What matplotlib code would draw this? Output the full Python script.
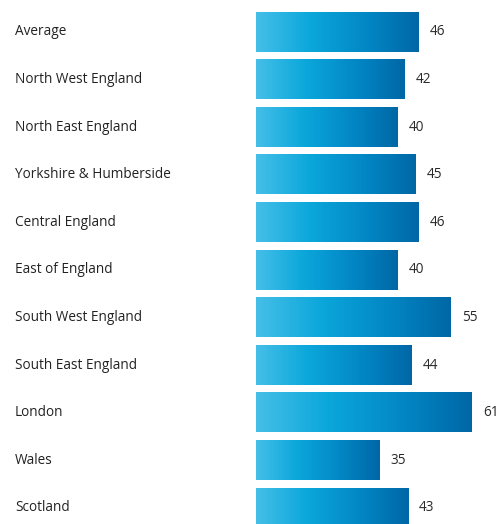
import matplotlib
matplotlib.use("Agg")
import matplotlib.pyplot as plt
import numpy as np
from matplotlib.transforms import blended_transform_factory
from matplotlib.colors import LinearSegmentedColormap

regions = ["Average", "North West England", "North East England", "Yorkshire & Humberside",
           "Central England", "East of England", "South West England", "South East England",
           "London", "Wales", "Scotland"]
values = [46, 42, 40, 45, 46, 40, 55, 44, 61, 35, 43]

plt.rcParams['font.family'] = ['Open Sans', 'DejaVu Sans']

W, H = 497, 524
fig = plt.figure(figsize=(W / 100, H / 100), dpi=100)
x0 = 256
px_per_unit = 3.54
ax = fig.add_axes([x0 / W, 0, 1 - x0 / W, 1])
spacing = 47.6
top_c = 32
xlim = (0, (W - x0) / px_per_unit)
ylim = (10 + (H - (top_c + 10 * spacing)) / spacing, -top_c / spacing)
ax.axis('off')

cmap = LinearSegmentedColormap.from_list('g', ['#45bfe8', '#0ba7db', '#0388c6', '#0067a6'])
grad = np.linspace(0, 1, 256).reshape(1, -1)
h = 0.82
for i, v in enumerate(values):
    ax.imshow(grad, cmap=cmap, aspect='auto', extent=[0, v, i + h / 2, i - h / 2],
              interpolation='bicubic', zorder=2)
    ax.text(v + 11 / px_per_unit, i, str(v), va='center', ha='left', fontsize=9.8,
            color='#2a2a2a', clip_on=False)

trans = blended_transform_factory(fig.transFigure, ax.transData)
for i, r in enumerate(regions):
    ax.text(15 / W, i, r, transform=trans, va='center', ha='left', fontsize=9.8,
            color='#222222', clip_on=False)

ax.set_xlim(*xlim)
ax.set_ylim(*ylim)
fig.savefig('out.png', dpi=100)
